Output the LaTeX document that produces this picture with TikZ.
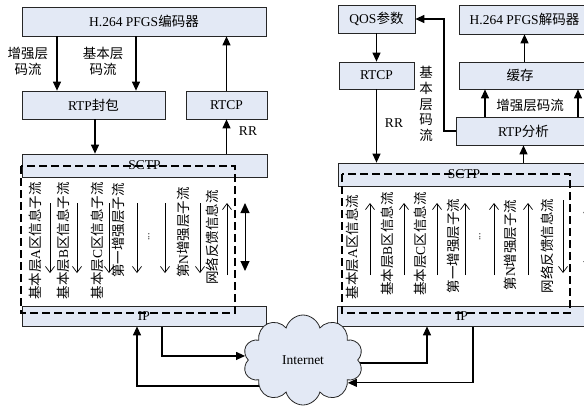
\documentclass[tikz,border=0pt]{standalone}
\usepackage{fontspec}
\setmainfont{Liberation Serif}
\newfontfamily\cjk{Noto Sans CJK SC}
\usetikzlibrary{arrows.meta,shapes.symbols,backgrounds}
\definecolor{boxfill}{RGB}{227,233,245}
\newcommand\zh[1]{{\cjk #1}}
\newcommand\fs{\fontsize{13.5}{16}\selectfont}
\begin{document}
\begin{tikzpicture}[x=1pt,y=-1pt,font=\fs,
  box/.style={draw=black!85, fill=boxfill, line width=0.7pt, inner sep=0pt},
  lbl/.style={inner sep=0pt, align=center},
  vtext/.style={rotate=90, inner sep=0pt, anchor=east},
  vtextc/.style={rotate=90, inner sep=0pt},
  arr/.style={-{Triangle[length=9pt,width=8pt]}, line width=1.1pt},
  thinarr/.style={-{Straight Barb[length=6pt,width=9pt]}, line width=0.7pt},
  dblarr/.style={{Triangle[length=10pt,width=9pt]}-{Triangle[length=10pt,width=9pt]}, line width=1pt},
  dashbox/.style={line width=1.6pt, dash pattern=on 8pt off 4pt}]
\path[use as bounding box, clip] (0,0) rectangle (584,405);

% ---------- left side boxes ----------
\node[box, minimum width=244pt, minimum height=29pt] (enc) at (144,21.5) {H.264 PFGS\zh{编码器}};
\node[box, minimum width=143pt, minimum height=28pt] (rtpf) at (93.5,105) {RTP\zh{封包}};
\node[box, minimum width=81pt, minimum height=28pt] (rtcpL) at (226.5,105) {RTCP};
\node[box, minimum width=245pt, minimum height=23pt] (sctpL) at (144.5,165.5) {SCTP};
\node[box, minimum width=244pt, minimum height=20pt] (ipL) at (144,316) {IP};

% ---------- right side boxes ----------
\node[box, minimum width=77pt, minimum height=28pt] (qos) at (376.5,19) {QOS\zh{参数}};
\node[box, minimum width=131pt, minimum height=29pt] (dec) at (524.5,19.5) {H.264 PFGS\zh{解码器}};
\node[box, minimum width=75pt, minimum height=27pt] (rtcpR) at (376.5,75.5) {RTCP};
\node[box, minimum width=131pt, minimum height=27pt] (cache) at (524.5,75.5) {};
\node[lbl] (cachet) at (520,75.5) {\zh{缓存}};
\node[box, minimum width=135pt, minimum height=28pt] (rtpa) at (523.5,131) {RTP\zh{分析}};
\node[box, minimum width=252pt, minimum height=23pt] (sctpR) at (464,174.5) {SCTP};
\node[box, minimum width=250pt, minimum height=20pt] (ipR) at (462,316) {IP};

% ---------- helper x positions ----------
\coordinate (xa) at (57,0);
\coordinate (xb) at (136,0);
\coordinate (xc) at (95,0);
\coordinate (xd) at (485,0);
\coordinate (xe) at (578,0);
\coordinate (xf) at (444,0);
\coordinate (x162) at (162,0);
\coordinate (x137) at (137,0);
\coordinate (x427) at (427,0);
\coordinate (x473) at (473,0);
\coordinate (y386) at (0,386);
\coordinate (y363) at (0,363);

% ---------- left connectors ----------
\draw[arr] (enc.south -| xa) -- (rtpf.north -| xa);
\draw[arr] (enc.south -| xb) -- (rtpf.north -| xb);
\draw[arr] (rtpf.south -| xc) -- (sctpL.north -| xc);
\draw[arr] (rtcpL.north) -- (enc.south -| rtcpL.north);
\draw[arr] (sctpL.north -| rtcpL.south) -- (rtcpL.south);
\node[lbl] (labA) at (28,61) {\zh{增强层}\\\zh{码流}};
\node[lbl] (labB) at (103,61) {\zh{基本层}\\\zh{码流}};
\node[lbl] (rrL) at (248,131) {RR};

% ---------- right connectors ----------
\draw[arr] (qos.south) -- (rtcpR.north);
\draw[arr] (rtcpR.south) -- (sctpR.north -| rtcpR.south);
\draw[arr] (cache.north) -- (dec.south);
\draw[arr] (rtpa.north -| xd) -- (cache.south -| xd);
\draw[arr] (rtpa.north -| xe) -- (cache.south -| xe);
\draw[arr] (sctpR.north -| rtpa.south) -- (rtpa.south);
\draw[arr] (rtpa.west) -- (rtpa.west -| xf) |- (qos.east);
\node[lbl] (labC) at (530,105) {\zh{增强层码流}};
\node[lbl, font=\fontsize{13.5}{15.6}\selectfont] (labD) at (426,104) {\zh{基}\\\zh{本}\\\zh{层}\\\zh{码}\\\zh{流}};
\node[lbl] (rrR) at (394,123) {RR};

% ---------- left stream columns ----------
\node[vtext] (l1) at (35,182) {\zh{基本层}A\zh{区信息子流}};
\node[vtext] (l2) at (63,182) {\zh{基本层}B\zh{区信息子流}};
\node[vtext] (l3) at (97,182) {\zh{基本层}C\zh{区信息子流}};
\node[vtext] (l4) at (118,183) {\zh{第一增强层子流}};
\node[vtext] (l5) at (183,187) {\zh{第}N\zh{增强层子流}};
\node[vtext] (l6) at (212,190) {\zh{网络反馈信息流}};
\node[vtextc, font=\fontsize{10}{12}\selectfont] (ldots) at (149,237) {...};
\foreach \x in {50,77,109,137,165,200} \draw[thinarr] (\x,203) -- (\x,273);
\draw[thinarr] (227,275) -- (227,203);
\draw[dblarr] (245,203) -- (245,271);

% ---------- right stream columns ----------
\node[vtextc] (r1) at (352,247) {\zh{基本层}A\zh{区信息流}};
\node[vtextc] (r2) at (387,244) {\zh{基本层}B\zh{区信息流}};
\node[vtextc] (r3) at (420,244) {\zh{基本层}C\zh{区信息流}};
\node[vtextc] (r4) at (453,246) {\zh{第一增强层子流}};
\node[vtextc] (r5) at (510,245) {\zh{第}N\zh{增强层子流}};
\node[vtextc] (r6) at (547,246) {\zh{网络反馈信息流}};
\node[vtextc, font=\fontsize{10}{12}\selectfont] (rdots) at (480,237) {...};
\foreach \x in {370,404,437,465,494,528} \draw[thinarr] (\x,275) -- (\x,203);
\draw[thinarr] (563,200) -- (563,273);
\draw[dblarr] (588,203) -- (588,271);

% ---------- dashed SCTP-over-IP frames ----------
\draw[dashbox] (21,166) rectangle (235,313);
\draw[dashbox] (342,174) rectangle (570,313);

% ---------- Internet cloud ----------
\node[cloud, cloud puffs=10, cloud ignores aspect, draw=black!85, line width=0.8pt, fill=boxfill,
      minimum width=120pt, minimum height=90pt, inner sep=0pt] (net) at (303,360) {Internet};
\begin{scope}[on background layer]
\draw[arr] (ipL.south -| x162) |- (net.176);
\draw[arr] (net.center |- y386) -| (ipL.south -| x137);
\draw[arr] (net.center |- y363) -| (ipR.south -| x427);
\draw[arr] (ipR.south -| x473) |- (net.-27);
\end{scope}
\end{tikzpicture}
\end{document}
